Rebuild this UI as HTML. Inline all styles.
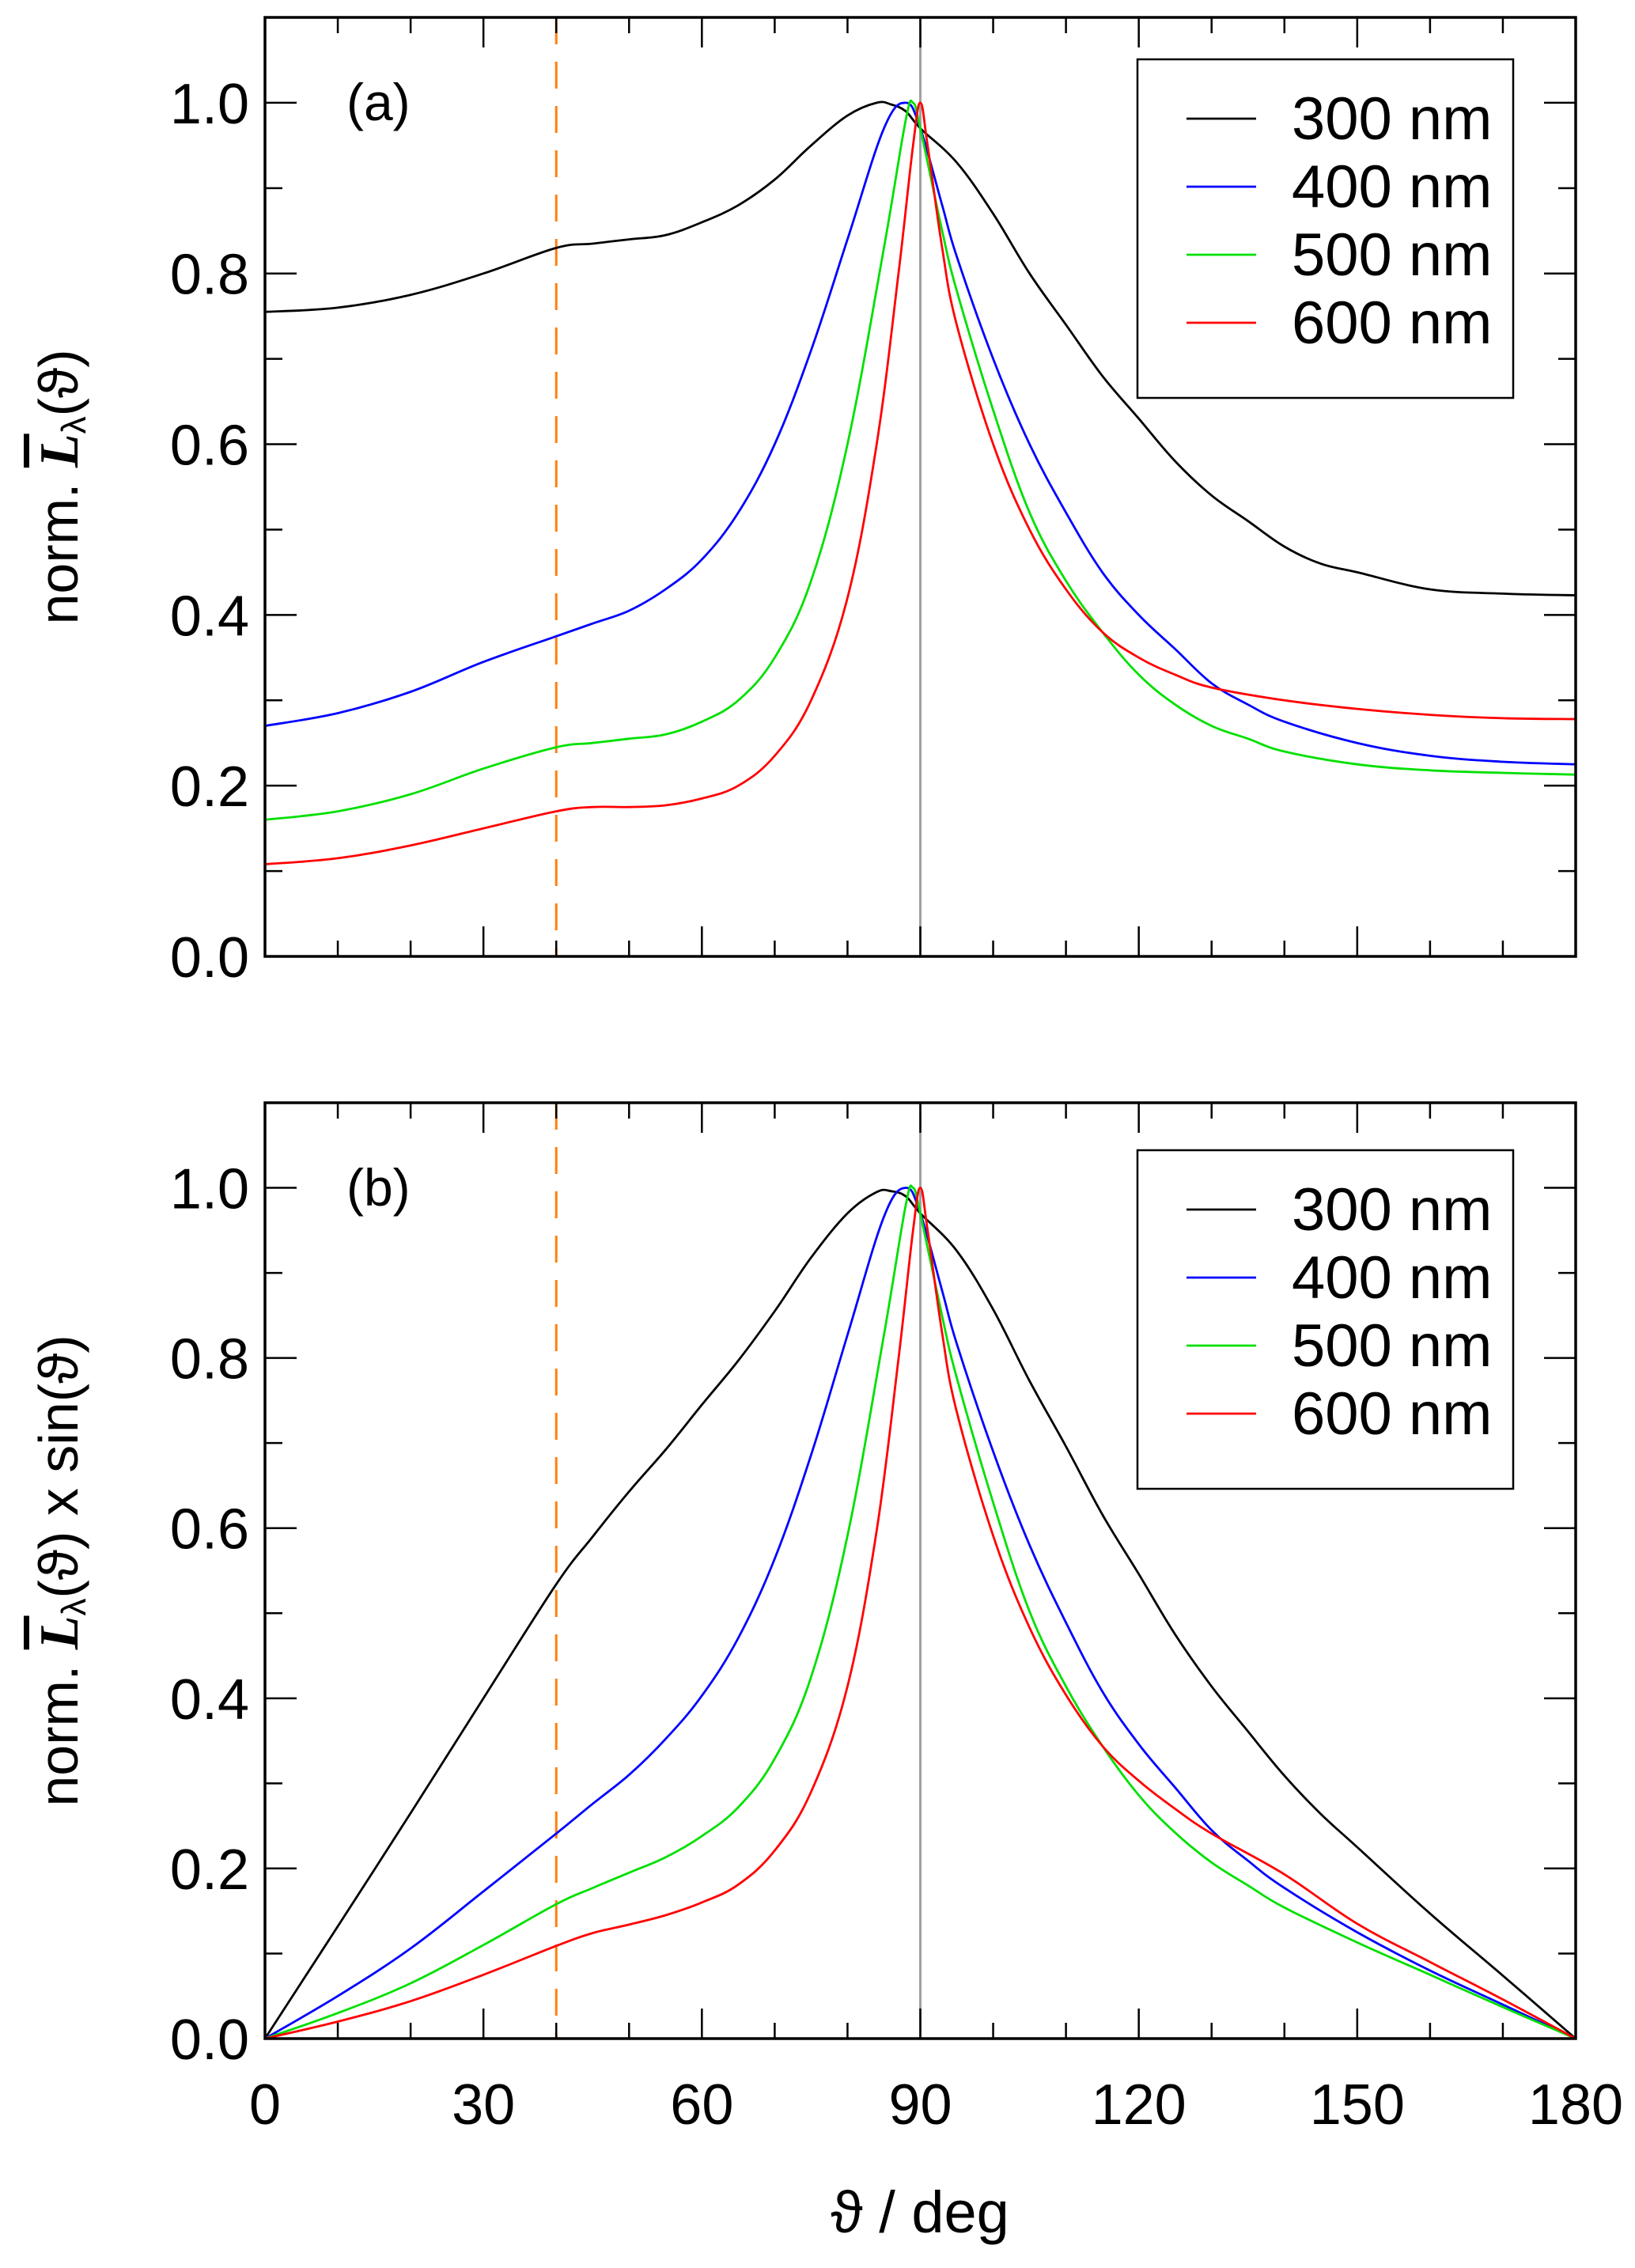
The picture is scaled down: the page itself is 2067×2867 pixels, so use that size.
<!DOCTYPE html>
<html><head><meta charset="utf-8"><style>
html,body{margin:0;padding:0;background:#fff}
svg{display:block}
text{font-family:"Liberation Sans",sans-serif;fill:#000}
</style></head><body>
<svg id="chart" width="2067" height="2867" viewBox="0 0 2067 2867" xmlns="http://www.w3.org/2000/svg"></svg>
<script>
const xTicks=[0,30,60,90,120,150,180];
const yTicks=[0.0,0.2,0.4,0.6,0.8,1.0];
const seriesNames=["300 nm","400 nm","500 nm","600 nm"];
const seriesColors=["#000000","#0000ff","#00e000","#ff0000"];
const dashedX=40;
const solidX=90;
const a300x=[0,10,20,30,40,45,50,55,60,65,70,75,80,84,86,88,90,95,100,105,110,115,120,125,130,135,140,145,150,160,170,180];
const a300y=[0.755,0.76,0.775,0.80,0.83,0.835,0.84,0.845,0.86,0.88,0.91,0.95,0.985,1.0,0.998,0.99,0.97,0.93,0.87,0.80,0.74,0.68,0.63,0.58,0.54,0.51,0.48,0.46,0.45,0.43,0.425,0.423];
const a400x=[0,10,20,30,40,45,50,55,60,65,70,75,80,85,88,90,93,95,100,105,110,115,120,125,130,135,140,150,160,170,180];
const a400y=[0.27,0.285,0.31,0.345,0.375,0.39,0.405,0.43,0.465,0.52,0.60,0.71,0.84,0.97,1.0,0.97,0.88,0.82,0.70,0.60,0.52,0.45,0.40,0.36,0.32,0.295,0.275,0.25,0.235,0.228,0.225];
const a500x=[0,10,20,30,40,45,50,55,60,65,70,75,80,85,88,89,90,93,95,100,105,110,115,120,125,130,135,140,150,160,170,180];
const a500y=[0.16,0.17,0.19,0.22,0.245,0.25,0.255,0.26,0.275,0.30,0.35,0.44,0.60,0.83,0.98,1.0,0.97,0.85,0.78,0.64,0.52,0.44,0.38,0.33,0.295,0.27,0.255,0.24,0.225,0.218,0.215,0.213];
const a600x=[0,10,20,30,40,45,50,55,60,65,70,75,80,84,87,89,90,91,93,95,100,105,110,115,120,125,130,140,150,160,170,180];
const a600y=[0.108,0.115,0.13,0.15,0.17,0.175,0.175,0.177,0.185,0.20,0.235,0.30,0.42,0.60,0.80,0.95,1.0,0.95,0.83,0.74,0.60,0.50,0.43,0.38,0.35,0.33,0.315,0.30,0.29,0.283,0.279,0.278];
const b300y=[0,0.132,0.265,0.40,0.534,0.59,0.643,0.692,0.745,0.797,0.855,0.918,0.970,0.995,0.996,0.99,0.97,0.926,0.857,0.773,0.696,0.616,0.546,0.475,0.414,0.361,0.309,0.264,0.225,0.147,0.074,0];
const b400y=[0,0.05,0.106,0.173,0.241,0.276,0.31,0.352,0.403,0.471,0.564,0.686,0.827,0.966,1.0,0.97,0.879,0.817,0.69,0.58,0.489,0.408,0.346,0.295,0.245,0.209,0.177,0.125,0.08,0.04,0];
const b500y=[0,0.03,0.065,0.11,0.158,0.177,0.195,0.213,0.238,0.272,0.329,0.425,0.591,0.827,0.98,1.0,0.97,0.849,0.777,0.63,0.502,0.414,0.344,0.286,0.242,0.207,0.18,0.154,0.113,0.075,0.037,0];
const b600y=[0,0.02,0.044,0.075,0.109,0.124,0.134,0.145,0.16,0.181,0.221,0.29,0.414,0.597,0.799,0.95,1.0,0.95,0.829,0.737,0.591,0.483,0.404,0.344,0.303,0.27,0.241,0.193,0.135,0.09,0.046,0];

const NS="http://www.w3.org/2000/svg";
const svg=document.getElementById('chart');
const L=335,R=1992;
const FS=72;
function mk(tag,attrs,parent){const e=document.createElementNS(NS,tag);for(const k in attrs)e.setAttribute(k,attrs[k]);(parent||svg).appendChild(e);return e;}
function xs(v){return L+(v/180)*(R-L);}
function smooth(pts){
  let d='M'+pts[0][0].toFixed(1)+','+pts[0][1].toFixed(1);
  for(let i=0;i<pts.length-1;i++){
    const p0=pts[Math.max(0,i-1)],p1=pts[i],p2=pts[i+1],p3=pts[Math.min(pts.length-1,i+2)];
    const t=0.18;
    const c1=[p1[0]+(p2[0]-p0[0])*t,p1[1]+(p2[1]-p0[1])*t];
    const c2=[p2[0]-(p3[0]-p1[0])*t,p2[1]-(p3[1]-p1[1])*t];
    d+=` C${c1[0].toFixed(1)},${c1[1].toFixed(1)} ${c2[0].toFixed(1)},${c2[1].toFixed(1)} ${p2[0].toFixed(1)},${p2[1].toFixed(1)}`;
  }
  return d;
}

function panel(id,top,bottom,xsArr,ysArr,label,yTitle,legendTop,showX){
  const g=mk('g',{});
  
  
  const ys=v=>bottom-(v/1.1)*(bottom-top);
  const dl=mk('line',{x1:xs(dashedX),x2:xs(dashedX),y1:top,y2:bottom,stroke:'#ff7f0e','stroke-width':3,'stroke-dasharray':'34,22'},g);
  
  
  const sl=mk('line',{x1:xs(solidX),x2:xs(solidX),y1:top,y2:bottom,stroke:'#a0a0a0','stroke-width':3},g);
  
  
  for(let s=0;s<4;s++){
    const pts=xsArr[s].map((x,i)=>[xs(x),ys(ysArr[s][i])]);
    const p=mk('path',{d:smooth(pts),fill:'none',stroke:seriesColors[s],'stroke-width':2.8,'stroke-linejoin':'round'},g);
    
    
  }
  const fr=mk('rect',{x:L,y:top,width:R-L,height:bottom-top,fill:'none',stroke:'#000','stroke-width':3.5},g);
  
  
  for(let v=0;v<=180;v+=10){
    const maj=v%30===0, len=maj?38:20, X=xs(v);
    mk('line',{x1:X,x2:X,y1:bottom,y2:bottom-len,stroke:'#000','stroke-width':2.5},g);
    mk('line',{x1:X,x2:X,y1:top,y2:top+len,stroke:'#000','stroke-width':2.5},g);
  }
  if(showX){
    xTicks.forEach(v=>{
      const t=mk('text',{x:xs(v),y:bottom+108,'font-size':FS,'text-anchor':'middle'},g);
      t.textContent=v;
      
      
    });
  }
  for(let k=0;k<=10;k++){
    const v=k/10, maj=k%2===0, len=maj?40:22, Y=ys(v);
    mk('line',{x1:L,x2:L+len,y1:Y,y2:Y,stroke:'#000','stroke-width':2.5},g);
    mk('line',{x1:R,x2:R-len,y1:Y,y2:Y,stroke:'#000','stroke-width':2.5},g);
  }
  yTicks.forEach(v=>{
    const t=mk('text',{x:315,y:ys(v)+26,'font-size':FS,'text-anchor':'end'},g);
    t.textContent=v.toFixed(1);
    
    
  });
  const pl=mk('text',{x:438,y:top+130,'font-size':66},g);
  pl.textContent=label;
  
  
  const cy=(top+bottom)/2;
  const yt=mk('text',{x:0,y:0,'font-size':70,'text-anchor':'middle',transform:`translate(98,${cy}) rotate(-90)`},g);
  
  
  yt.innerHTML=yTitle;
  const lg=mk('g',{},g);
  
  
  mk('rect',{x:1438,y:legendTop,width:475,height:428,fill:'#fff',stroke:'#000','stroke-width':2.5},lg);
  for(let s=0;s<4;s++){
    const cyL=legendTop+75+s*86;
    const ln=mk('line',{x1:1500,x2:1588,y1:cyL,y2:cyL,stroke:seriesColors[s],'stroke-width':2.8},lg);
    
    
    const t=mk('text',{x:1633,y:cyL+26,'font-size':FS+4},lg);
    t.textContent=seriesNames[s];
    
    
  }
}
const titleA='norm. <tspan font-family="Liberation Serif" font-style="italic" font-weight="bold" text-decoration="overline">L</tspan><tspan font-size="44" dy="10">λ</tspan><tspan dy="-10">(ϑ)</tspan>';
const titleB='norm. <tspan font-family="Liberation Serif" font-style="italic" font-weight="bold" text-decoration="overline">L</tspan><tspan font-size="44" dy="10">λ</tspan><tspan dy="-10">(ϑ) x sin(ϑ)</tspan>';
panel('a',22,1209,[a300x,a400x,a500x,a600x],[a300y,a400y,a500y,a600y],'(a)',titleA,75,false);
panel('b',1394,2577,[a300x,a400x,a500x,a600x],[b300y,b400y,b500y,b600y],'(b)',titleB,1454,true);
const xt=mk('text',{x:1163,y:2822,'font-size':74,'text-anchor':'middle'});
xt.textContent='ϑ / deg';


</script>
</body></html>
